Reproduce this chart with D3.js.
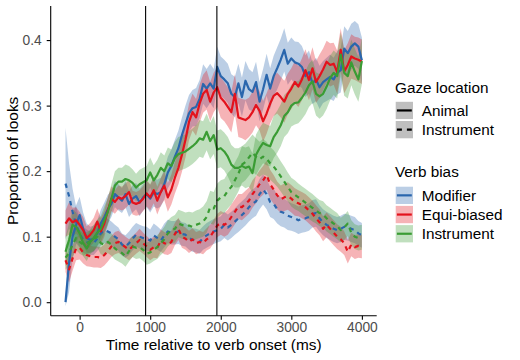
<!DOCTYPE html>
<html>
<head>
<meta charset="utf-8">
<script src="https://cdn.jsdelivr.net/npm/d3@7"></script>
<style>
  body { margin: 0; background: #fff; }
  svg { display: block; font-family: "Liberation Sans", Arial, sans-serif; }
</style>
</head>
<body>
<svg id="chart" width="520" height="360"></svg>
<script>
// time grid (ms relative to verb onset), one sample every 50 ms
const times = d3.range(-200, 4001, 50);

// Gaze to animal
const modAnimal = [
  0.000, 0.060, 0.100, 0.118, 0.133, 0.112, 0.098, 0.095, 0.097, 0.105,
  0.120, 0.130, 0.142, 0.150, 0.165, 0.160, 0.155, 0.165, 0.150, 0.158,
  0.162, 0.152, 0.160, 0.165, 0.158, 0.168, 0.165, 0.168, 0.180, 0.198,
  0.208, 0.222, 0.235, 0.255, 0.272, 0.288, 0.296, 0.298, 0.310, 0.333,
  0.326, 0.334, 0.326, 0.359, 0.345, 0.340, 0.334, 0.318, 0.313, 0.334,
  0.313, 0.338, 0.325, 0.321, 0.336, 0.306, 0.325, 0.347, 0.326, 0.345,
  0.357, 0.370, 0.385, 0.364, 0.372, 0.366, 0.364, 0.359, 0.345, 0.351,
  0.334, 0.340, 0.328, 0.336, 0.340, 0.344, 0.340, 0.350, 0.354, 0.387,
  0.380, 0.390, 0.395, 0.390, 0.369
];
const equiAnimal = [
  0.120, 0.128, 0.122, 0.125, 0.118, 0.110, 0.098, 0.103, 0.110, 0.123,
  0.108, 0.120, 0.140, 0.158, 0.153, 0.160, 0.158, 0.162, 0.168, 0.152,
  0.150, 0.152, 0.158, 0.166, 0.160, 0.171, 0.155, 0.168, 0.178, 0.160,
  0.172, 0.190, 0.205, 0.225, 0.248, 0.275, 0.290, 0.282, 0.303, 0.318,
  0.324, 0.306, 0.320, 0.328, 0.312, 0.306, 0.298, 0.290, 0.318, 0.282,
  0.280, 0.278, 0.282, 0.290, 0.301, 0.292, 0.276, 0.288, 0.303, 0.315,
  0.319, 0.313, 0.306, 0.318, 0.326, 0.336, 0.329, 0.340, 0.354, 0.339,
  0.357, 0.336, 0.345, 0.355, 0.367, 0.362, 0.364, 0.351, 0.385, 0.352,
  0.362, 0.375, 0.372, 0.370, 0.367
];
const instAnimal = [
  0.077, 0.095, 0.118, 0.115, 0.105, 0.090, 0.082, 0.092, 0.098, 0.106,
  0.112, 0.125, 0.138, 0.158, 0.178, 0.184, 0.184, 0.188, 0.186, 0.182,
  0.175, 0.180, 0.183, 0.186, 0.198, 0.186, 0.194, 0.205, 0.200, 0.212,
  0.208, 0.220, 0.226, 0.228, 0.230, 0.234, 0.238, 0.243, 0.250, 0.248,
  0.260, 0.246, 0.255, 0.233, 0.235, 0.230, 0.222, 0.210, 0.205, 0.205,
  0.208, 0.205, 0.207, 0.197, 0.225, 0.235, 0.243, 0.240, 0.238, 0.252,
  0.260, 0.270, 0.284, 0.290, 0.300, 0.304, 0.305, 0.312, 0.320, 0.331,
  0.337, 0.318, 0.314, 0.318, 0.329, 0.342, 0.350, 0.345, 0.378, 0.350,
  0.345, 0.366, 0.352, 0.340, 0.368
];

// Gaze to instrument
const modInstr = [
  0.181, 0.162, 0.138, 0.118, 0.105, 0.095, 0.092, 0.090, 0.090, 0.097,
  0.105, 0.110, 0.108, 0.105, 0.100, 0.096, 0.088, 0.085, 0.090, 0.097,
  0.103, 0.100, 0.098, 0.097, 0.094, 0.102, 0.098, 0.094, 0.102, 0.108,
  0.106, 0.106, 0.108, 0.104, 0.103, 0.098, 0.095, 0.094, 0.092, 0.098,
  0.102, 0.105, 0.108, 0.110, 0.112, 0.118, 0.114, 0.118, 0.123, 0.128,
  0.133, 0.138, 0.145, 0.150, 0.154, 0.165, 0.172, 0.165, 0.153, 0.150,
  0.142, 0.138, 0.136, 0.132, 0.130, 0.128, 0.125, 0.127, 0.128, 0.130,
  0.135, 0.136, 0.128, 0.122, 0.118, 0.115, 0.112, 0.110, 0.112, 0.115,
  0.114, 0.112, 0.110, 0.105, 0.102
];
const equiInstr = [
  0.064, 0.050, 0.067, 0.082, 0.083, 0.076, 0.072, 0.070, 0.069, 0.069,
  0.068, 0.072, 0.078, 0.085, 0.090, 0.092, 0.088, 0.084, 0.080, 0.085,
  0.090, 0.095, 0.090, 0.085, 0.080, 0.084, 0.083, 0.094, 0.090, 0.088,
  0.092, 0.104, 0.112, 0.100, 0.097, 0.092, 0.096, 0.090, 0.092, 0.090,
  0.096, 0.100, 0.108, 0.117, 0.121, 0.118, 0.122, 0.130, 0.138, 0.146,
  0.145, 0.150, 0.155, 0.165, 0.172, 0.180, 0.186, 0.194, 0.180, 0.172,
  0.163, 0.157, 0.160, 0.162, 0.158, 0.153, 0.151, 0.148, 0.145, 0.140,
  0.135, 0.128, 0.122, 0.112, 0.118, 0.112, 0.106, 0.100, 0.096, 0.090,
  0.077, 0.088, 0.084, 0.086, 0.085
];
const instInstr = [
  0.068, 0.075, 0.088, 0.098, 0.092, 0.088, 0.090, 0.093, 0.095, 0.100,
  0.090, 0.088, 0.092, 0.088, 0.082, 0.078, 0.075, 0.070, 0.078, 0.085,
  0.083, 0.084, 0.080, 0.074, 0.076, 0.080, 0.084, 0.090, 0.096, 0.105,
  0.110, 0.112, 0.120, 0.118, 0.116, 0.117, 0.115, 0.118, 0.120, 0.123,
  0.130, 0.145, 0.143, 0.155, 0.160, 0.162, 0.170, 0.176, 0.186, 0.196,
  0.210, 0.214, 0.221, 0.228, 0.222, 0.218, 0.222, 0.219, 0.212, 0.207,
  0.200, 0.192, 0.184, 0.176, 0.168, 0.164, 0.160, 0.156, 0.152, 0.148,
  0.144, 0.140, 0.136, 0.134, 0.128, 0.124, 0.120, 0.116, 0.110, 0.114,
  0.120, 0.106, 0.100, 0.098, 0.099
];

// standard errors (ribbon half width)
const seModAnimal = [
  0.006, 0.045, 0.035, 0.030, 0.028, 0.025, 0.022, 0.020, 0.020, 0.020,
  0.021, 0.022, 0.022, 0.020, 0.020, 0.020, 0.019, 0.020, 0.020, 0.021,
  0.020, 0.021, 0.020, 0.020, 0.021, 0.022, 0.022, 0.022, 0.023, 0.024,
  0.025, 0.026, 0.027, 0.027, 0.028, 0.028, 0.028, 0.029, 0.029, 0.030,
  0.030, 0.030, 0.030, 0.031, 0.030, 0.030, 0.030, 0.030, 0.031, 0.030,
  0.030, 0.030, 0.031, 0.030, 0.031, 0.030, 0.031, 0.032, 0.031, 0.031,
  0.032, 0.032, 0.033, 0.032, 0.032, 0.032, 0.033, 0.032, 0.032, 0.033,
  0.032, 0.033, 0.033, 0.032, 0.033, 0.034, 0.033, 0.033, 0.034, 0.034,
  0.034, 0.035, 0.034, 0.034, 0.035
];
const seEquiAnimal = [
  0.020, 0.025, 0.022, 0.020, 0.020, 0.020, 0.018, 0.018, 0.019, 0.020,
  0.020, 0.020, 0.020, 0.019, 0.018, 0.018, 0.018, 0.019, 0.019, 0.018,
  0.018, 0.019, 0.019, 0.020, 0.020, 0.020, 0.021, 0.021, 0.022, 0.022,
  0.023, 0.024, 0.025, 0.026, 0.027, 0.028, 0.028, 0.028, 0.029, 0.029,
  0.030, 0.030, 0.030, 0.030, 0.031, 0.030, 0.030, 0.031, 0.030, 0.030,
  0.030, 0.031, 0.030, 0.031, 0.031, 0.030, 0.031, 0.031, 0.030, 0.031,
  0.031, 0.031, 0.032, 0.031, 0.031, 0.032, 0.031, 0.032, 0.032, 0.031,
  0.032, 0.032, 0.033, 0.032, 0.032, 0.033, 0.032, 0.033, 0.033, 0.033,
  0.033, 0.034, 0.033, 0.034, 0.034
];
const seInstAnimal = [
  0.022, 0.026, 0.024, 0.022, 0.020, 0.020, 0.019, 0.019, 0.020, 0.020,
  0.020, 0.021, 0.021, 0.022, 0.022, 0.021, 0.021, 0.022, 0.022, 0.021,
  0.021, 0.022, 0.022, 0.022, 0.023, 0.023, 0.023, 0.024, 0.024, 0.024,
  0.025, 0.025, 0.026, 0.026, 0.026, 0.027, 0.027, 0.027, 0.028, 0.028,
  0.028, 0.028, 0.029, 0.029, 0.029, 0.029, 0.030, 0.030, 0.030, 0.030,
  0.030, 0.031, 0.031, 0.030, 0.031, 0.031, 0.031, 0.031, 0.031, 0.032,
  0.032, 0.032, 0.032, 0.032, 0.032, 0.033, 0.032, 0.033, 0.033, 0.033,
  0.033, 0.033, 0.034, 0.033, 0.034, 0.034, 0.034, 0.034, 0.034, 0.035,
  0.034, 0.035, 0.035, 0.034, 0.035
];
const seModInstr = [
  0.085, 0.050, 0.035, 0.028, 0.022, 0.020, 0.019, 0.018, 0.018, 0.019,
  0.019, 0.020, 0.019, 0.018, 0.018, 0.018, 0.017, 0.017, 0.018, 0.018,
  0.018, 0.018, 0.018, 0.018, 0.017, 0.018, 0.018, 0.017, 0.018, 0.018,
  0.018, 0.018, 0.019, 0.018, 0.018, 0.018, 0.018, 0.018, 0.018, 0.018,
  0.019, 0.019, 0.019, 0.019, 0.019, 0.020, 0.020, 0.020, 0.020, 0.021,
  0.021, 0.021, 0.022, 0.022, 0.022, 0.023, 0.023, 0.023, 0.023, 0.023,
  0.022, 0.022, 0.022, 0.022, 0.021, 0.021, 0.021, 0.021, 0.021, 0.021,
  0.021, 0.021, 0.020, 0.020, 0.020, 0.020, 0.020, 0.020, 0.020, 0.020,
  0.020, 0.020, 0.020, 0.019, 0.019
];
const seEquiInstr = [
  0.018, 0.020, 0.019, 0.018, 0.018, 0.017, 0.017, 0.016, 0.016, 0.016,
  0.016, 0.016, 0.016, 0.016, 0.017, 0.017, 0.016, 0.016, 0.016, 0.016,
  0.016, 0.017, 0.016, 0.016, 0.016, 0.016, 0.016, 0.017, 0.017, 0.016,
  0.017, 0.017, 0.017, 0.017, 0.017, 0.017, 0.017, 0.017, 0.017, 0.017,
  0.017, 0.018, 0.018, 0.018, 0.018, 0.018, 0.019, 0.019, 0.019, 0.019,
  0.020, 0.020, 0.020, 0.021, 0.021, 0.021, 0.022, 0.022, 0.022, 0.022,
  0.021, 0.021, 0.021, 0.021, 0.021, 0.021, 0.020, 0.020, 0.020, 0.020,
  0.020, 0.020, 0.020, 0.019, 0.019, 0.019, 0.019, 0.019, 0.019, 0.018,
  0.018, 0.018, 0.018, 0.018, 0.018
];
const seInstInstr = [
  0.018, 0.020, 0.019, 0.018, 0.018, 0.017, 0.017, 0.017, 0.017, 0.017,
  0.017, 0.017, 0.017, 0.017, 0.017, 0.016, 0.016, 0.016, 0.016, 0.016,
  0.017, 0.017, 0.017, 0.017, 0.017, 0.017, 0.018, 0.018, 0.019, 0.020,
  0.020, 0.021, 0.021, 0.021, 0.021, 0.021, 0.022, 0.022, 0.022, 0.023,
  0.024, 0.025, 0.025, 0.026, 0.026, 0.026, 0.027, 0.027, 0.027, 0.027,
  0.028, 0.028, 0.028, 0.028, 0.028, 0.027, 0.027, 0.026, 0.025, 0.025,
  0.024, 0.023, 0.023, 0.022, 0.022, 0.022, 0.021, 0.021, 0.021, 0.021,
  0.021, 0.020, 0.020, 0.020, 0.020, 0.020, 0.020, 0.020, 0.019, 0.019,
  0.019, 0.019, 0.019, 0.019, 0.019
];

const verbBias = ["Modifier", "Equi-biased", "Instrument"];
const gazeLocation = ["Animal", "Instrument"];
const biasColors = ["#2a66ad", "#e3121c", "#3a9c34"];
const xTicks = [0, 1000, 2000, 3000, 4000];
const yTicks = [0, 0.1, 0.2, 0.3, 0.4];
const verbLines = [935, 1945]; // mean verb offsets

const series = [
  { bias: 0, gaze: 0, values: modAnimal, se: seModAnimal },
  { bias: 1, gaze: 0, values: equiAnimal, se: seEquiAnimal },
  { bias: 2, gaze: 0, values: instAnimal, se: seInstAnimal },
  { bias: 0, gaze: 1, values: modInstr, se: seModInstr },
  { bias: 1, gaze: 1, values: equiInstr, se: seEquiInstr },
  { bias: 2, gaze: 1, values: instInstr, se: seInstInstr }
];

const panel = { left: 50.7, right: 376.7, top: 6, bottom: 315.7 };
const svg = d3.select("#chart");

const xScale = d3.scaleLinear()
  .domain([-410, 4210])
  .range([panel.left, panel.right]);

const yScale = d3.scaleLinear()
  .domain([-0.0206, 0.452])
  .range([panel.bottom, panel.top]);

const dash = "4.5,4.5";

// ribbons first, then lines (same order as ggplot layers)
const ribbon = d3.area()
  .x((d, i) => xScale(times[i]))
  .y0(d => yScale(d[0] - d[1]))
  .y1(d => yScale(d[0] + d[1]));

const line = d3.line()
  .x((d, i) => xScale(times[i]))
  .y(d => yScale(d));

const ordered = [series[0], series[3], series[1], series[4], series[2], series[5]];

svg.append("g")
  .selectAll("path")
  .data(ordered)
  .join("path")
  .attr("d", s => ribbon(s.values.map((v, i) => [v, s.se[i]])))
  .attr("fill", s => biasColors[s.bias])
  .attr("fill-opacity", 0.32);

svg.append("g")
  .selectAll("path")
  .data(ordered)
  .join("path")
  .attr("d", s => line(s.values))
  .attr("fill", "none")
  .attr("stroke", s => biasColors[s.bias])
  .attr("stroke-width", 2.2)
  .attr("stroke-linejoin", "round")
  .attr("stroke-dasharray", s => s.gaze === 1 ? dash : null);

// vertical reference lines
svg.append("g")
  .selectAll("line")
  .data(verbLines)
  .join("line")
  .attr("x1", d => xScale(d))
  .attr("x2", d => xScale(d))
  .attr("y1", panel.top)
  .attr("y2", panel.bottom)
  .attr("stroke", "#000")
  .attr("stroke-width", 1.1);

// axes
const xAxis = d3.axisBottom(xScale).tickValues(xTicks).tickFormat(d3.format("d"))
  .tickSize(4).tickSizeOuter(0).tickPadding(3);
const yAxis = d3.axisLeft(yScale).tickValues(yTicks).tickFormat(d3.format(".1f"))
  .tickSize(4).tickSizeOuter(0).tickPadding(5);

const gx = svg.append("g")
  .attr("transform", `translate(0,${panel.bottom})`)
  .call(xAxis);
const gy = svg.append("g")
  .attr("transform", `translate(${panel.left},0)`)
  .call(yAxis);

gx.select(".domain").attr("d", `M${panel.left},0H${panel.right}`);
gy.select(".domain").attr("d", `M0,${panel.top}V${panel.bottom}`);

[gx, gy].forEach(g => {
  g.selectAll(".domain, .tick line").attr("stroke", "#000").attr("stroke-width", 1.1);
  g.selectAll(".tick text")
    .attr("fill", "#4d4d4d")
    .style("font-size", "13.8px")
    .style("font-family", "'Liberation Sans', Arial, sans-serif");
});

svg.append("text")
  .attr("x", (panel.left + panel.right) / 2)
  .attr("y", 350)
  .attr("text-anchor", "middle")
  .style("font-size", "15.4px")
  .text("Time relative to verb onset (ms)");

svg.append("text")
  .attr("transform", `translate(18,${(panel.top + panel.bottom) / 2}) rotate(-90)`)
  .attr("text-anchor", "middle")
  .style("font-size", "15.4px")
  .text("Proportion of looks");

// legends
const legX = 395.7, keyW = 17.3, keyStep = 19.2, labelX = 421.7;

const gazeLeg = svg.append("g");
gazeLeg.append("text")
  .attr("x", 395).attr("y", 92.5)
  .style("font-size", "15.3px")
  .text("Gaze location");

const gazeKeys = gazeLeg.selectAll("g.key")
  .data(gazeLocation)
  .join("g")
  .attr("class", "key")
  .attr("transform", (d, i) => `translate(${legX},${101.8 + i * keyStep})`);
gazeKeys.append("rect")
  .attr("width", keyW).attr("height", keyW)
  .attr("fill", "#bfbfbf");
gazeKeys.append("line")
  .attr("x1", 1.2).attr("x2", keyW - 1.2)
  .attr("y1", keyW / 2).attr("y2", keyW / 2)
  .attr("stroke", "#000").attr("stroke-width", 2.2)
  .attr("stroke-dasharray", (d, i) => i === 1 ? "5,5" : null);
gazeKeys.append("text")
  .attr("x", labelX - legX).attr("y", keyW / 2 + 5.4)
  .style("font-size", "15.3px")
  .text(d => d);

const biasLeg = svg.append("g");
biasLeg.append("text")
  .attr("x", 395).attr("y", 177.3)
  .style("font-size", "15.3px")
  .text("Verb bias");

const biasKeys = biasLeg.selectAll("g.key")
  .data(verbBias)
  .join("g")
  .attr("class", "key")
  .attr("transform", (d, i) => `translate(${legX},${186.7 + i * keyStep})`);
biasKeys.append("rect")
  .attr("width", keyW).attr("height", keyW)
  .attr("fill", (d, i) => biasColors[i])
  .attr("fill-opacity", 0.32);
biasKeys.append("line")
  .attr("x1", 1.2).attr("x2", keyW - 1.2)
  .attr("y1", keyW / 2).attr("y2", keyW / 2)
  .attr("stroke", (d, i) => biasColors[i]).attr("stroke-width", 2.2);
biasKeys.append("text")
  .attr("x", labelX - legX).attr("y", keyW / 2 + 5.4)
  .style("font-size", "15.3px")
  .text(d => d);
</script>
</body>
</html>
